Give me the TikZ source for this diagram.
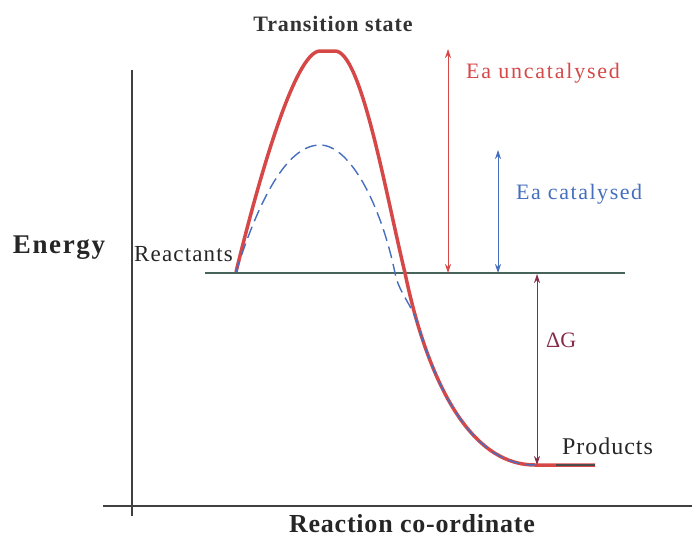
\documentclass[tikz,border=0pt]{standalone}
\usepackage{fontspec}
\setmainfont{Liberation Serif}
\usetikzlibrary{arrows.meta}
\definecolor{uncat}{RGB}{214,72,72}
\definecolor{cat}{RGB}{70,110,190}
\definecolor{level}{RGB}{70,100,90}
\definecolor{dg}{RGB}{135,45,75}
\tikzset{
  lbl/.style={inner sep=0pt},
  gap/.style={<->, >={Stealth[length=9pt,width=6pt]}, line width=0.9pt}
}
\newcommand{\lsz}[2]{\fontsize{#1}{#1}\selectfont\addfontfeature{LetterSpace=#2}}
\begin{document}
\begin{tikzpicture}[x=1pt,y=-1pt]
\useasboundingbox (0,0) rectangle (692,539);
\coordinate (yt) at (132,70);
\coordinate (yb) at (132,516);
\coordinate (xl) at (103,506);
\coordinate (xr) at (692,506);
\draw [line width=1.2pt,black!75] (yt) -- (yb);
\draw [line width=1.2pt,black!75] (xl) -- (xr);
\coordinate (r0) at (205,273);
\coordinate (r1) at (625,273);
\draw [line width=1.5pt,level] (r0) -- (r1);
\coordinate (start) at (236,272);
\coordinate (topl) at (320,51);
\coordinate (topr) at (335,51);
\coordinate (cross) at (405,273);
\coordinate (join) at (417.8,324.5);
\coordinate (low) at (535,465);
\coordinate (pend) at (595,465);
\draw [line width=3.5pt,uncat,line join=round] (start) .. controls (256,190) and (294,51) .. (topl) -- (topr)
  .. controls (361,51) and (385,190) .. (cross)
  .. controls (408.4,289.4) and (412.6,306.9) .. (join)
  .. controls (438.7,394.6) and (475,465) .. (low) -- (pend);
\coordinate (ctop) at (320,145);
\coordinate (ccross) at (395,273);
\draw [line width=1.4pt,cat,dash pattern=on 12pt off 6pt] (start) .. controls (262,190) and (290,145) .. (ctop)
  .. controls (350,145) and (381,205) .. (ccross)
  .. controls (399,293) and (411,303) .. (join)
  .. controls (438.7,394.6) and (475,465) .. (low);
\draw [line width=2pt,black!70] (556,465) -- (pend);
\coordinate (a0) at (448,273);
\coordinate (a1) at (448,49);
\coordinate (b0) at (498,273);
\coordinate (b1) at (498,150);
\coordinate (g0) at (537,274);
\coordinate (g1) at (537,465);
\draw [gap,uncat] (a0) -- (a1);
\draw [gap,cat] (b0) -- (b1);
\draw [gap,dg] (g0) -- (g1);
\node (ts) [lbl,font=\bfseries\lsz{22}{4},text=black!80] at (333,24) {Transition state};
\node (eau) [lbl,text=uncat,anchor=west,font=\lsz{22}{8}] at (466,73) {Ea uncatalysed};
\node (eac) [lbl,text=cat,anchor=west,font=\lsz{22}{7}] at (516,194) {Ea catalysed};
\node (dgl) [lbl,text=dg,anchor=west,font=\lsz{22}{0}] at (546,340) {ΔG};
\node (prod) [lbl,text=black!85,anchor=west,font=\lsz{24}{4}] at (562,446) {Products};
\node (reac) [lbl,text=black!85,anchor=west,font=\lsz{23}{5}] at (134,254) {Reactants};
\node (en) [lbl,text=black!85,font=\bfseries\lsz{27}{6}] at (59,248) {Energy};
\node (rc) [lbl,text=black!85,font=\bfseries\lsz{26}{3}] at (412,524) {Reaction co-ordinate};
\end{tikzpicture}
\end{document}
